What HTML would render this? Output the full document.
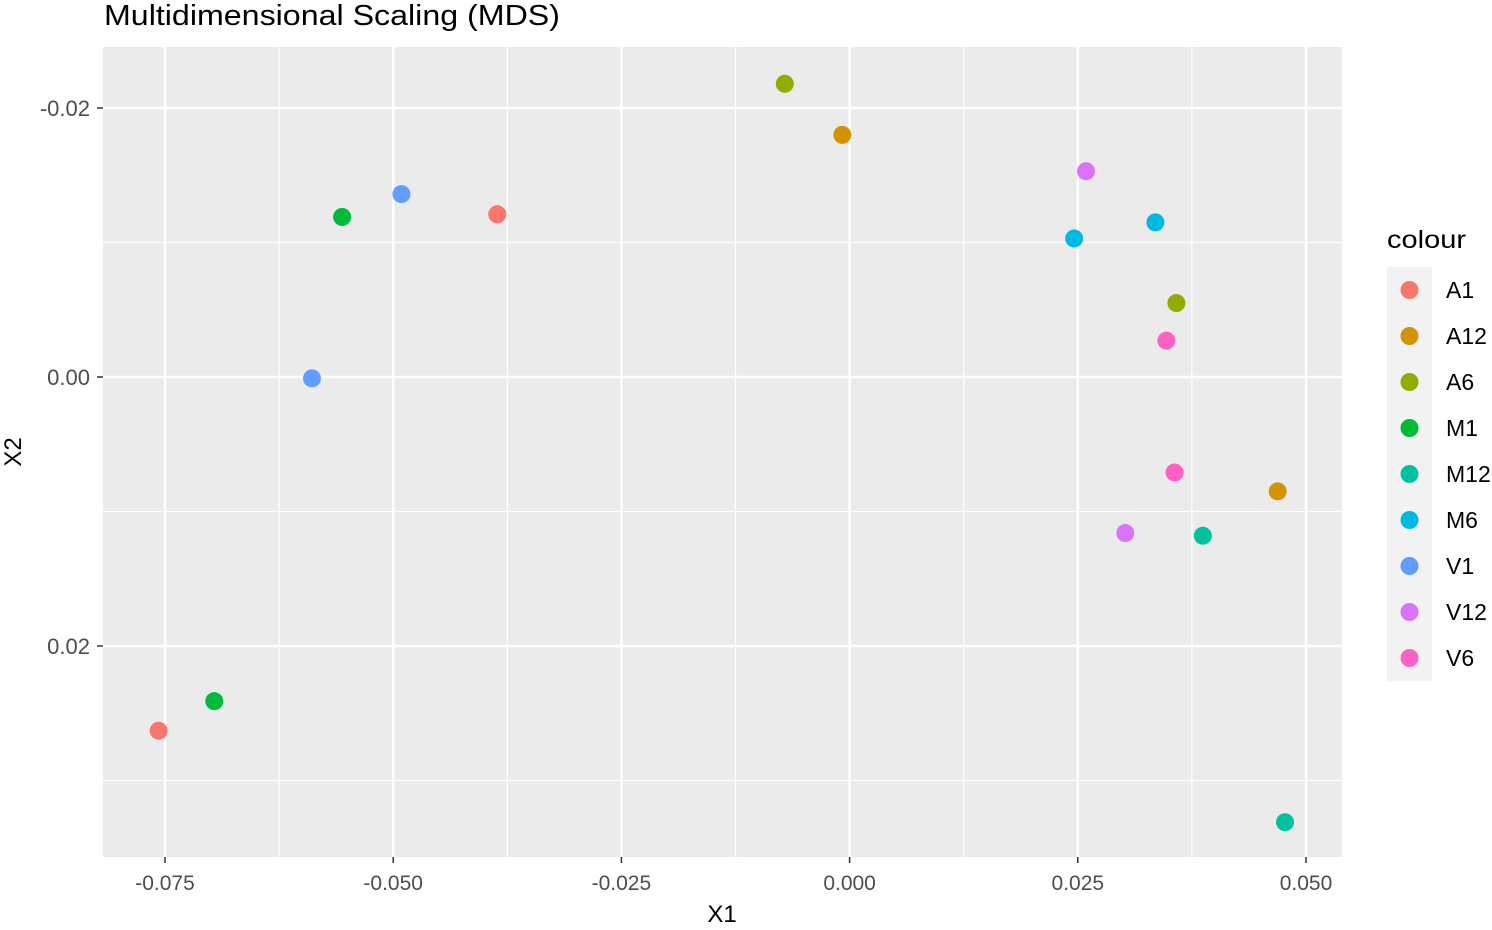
<!DOCTYPE html>
<html><head><meta charset="utf-8"><style>
body{margin:0;background:#fff;font-family:"Liberation Sans",sans-serif;}
svg text{font-family:"Liberation Sans",sans-serif;}
</style></head><body>
<svg id="chart" width="1492" height="925" xmlns="http://www.w3.org/2000/svg">
<text x="104" y="25" font-size="29" textLength="456" lengthAdjust="spacingAndGlyphs" fill="#000">Multidimensional Scaling (MDS)</text>
<rect x="103" y="47" width="1239" height="810" fill="#EBEBEB"/>
<g id="grid"></g><g id="axes"></g><g id="points"></g>
<text x="722" y="922" font-size="24" text-anchor="middle">X1</text>
<text transform="translate(21,452) rotate(-90)" font-size="24" text-anchor="middle">X2</text>
<text x="1387" y="248" font-size="25" textLength="79" lengthAdjust="spacingAndGlyphs">colour</text>
<rect x="1387" y="267" width="45" height="414" fill="#F2F2F2"/>
<g id="legend"></g>
</svg>
<script>
const groups=["A1","A12","A6","M1","M12","M6","V1","V12","V6"];
const colors=["#F8766D","#D39200","#93AA00","#00BA38","#00C19F","#00B9E3","#619CFF","#DB72FB","#FF61C3"];
const ptGroup=["A1","A1","A12","A12","A6","A6","M1","M1","M12","M12","M6","M6","V1","V1","V12","V12","V6","V6"];
const ptX1=[-0.0386,-0.0757,-0.0008,0.0469,-0.0071,0.0358,-0.0556,-0.0696,0.0387,0.0477,0.0246,0.0335,-0.0491,-0.0589,0.0259,0.0302,0.0347,0.0356];
const ptX2=[-0.0121,0.0263,-0.0180,0.0085,-0.0218,-0.0055,-0.0119,0.0241,0.0118,0.0331,-0.0103,-0.0115,-0.0136,0.0001,-0.0153,0.0116,-0.0027,0.0071];
const xTicks=[-0.075,-0.05,-0.025,0,0.025,0.05];
const xTickLabels=["-0.075","-0.050","-0.025","0.000","0.025","0.050"];
const yTicks=[-0.02,0,0.02];
const yTickLabels=["-0.02","0.00","0.02"];
const NS="http://www.w3.org/2000/svg";
const sx=v=>849.6+v*9128;
const sy=v=>377+v*13450;
function mk(tag,attrs,parent){const e=document.createElementNS(NS,tag);for(const k in attrs)e.setAttribute(k,attrs[k]);parent.appendChild(e);return e;}
const grid=document.getElementById('grid'),axes=document.getElementById('axes'),pts=document.getElementById('points'),leg=document.getElementById('legend');
for(let i=0;i<xTicks.length-1;i++){const m=(xTicks[i]+xTicks[i+1])/2;const l=mk('line',{x1:sx(m),x2:sx(m),y1:47,y2:857,stroke:'#fff','stroke-width':1.2},grid);

}
[-0.03,-0.01,0.01,0.03].forEach(m=>{const y=sy(m);if(y>47&&y<857){const l=mk('line',{x1:103,x2:1342,y1:y,y2:y,stroke:'#fff','stroke-width':1.2},grid);

}});
xTicks.forEach((v,i)=>{const x=sx(v);const l=mk('line',{x1:x,x2:x,y1:47,y2:857,stroke:'#fff','stroke-width':2.4},grid);


mk('line',{x1:x,x2:x,y1:857,y2:863,stroke:'#333','stroke-width':1.5},axes);
const t=mk('text',{x:x,y:890,'font-size':21,fill:'#4D4D4D','text-anchor':'middle'},axes);t.textContent=xTickLabels[i];

});
yTicks.forEach((v,i)=>{const y=sy(v);const l=mk('line',{x1:103,x2:1342,y1:y,y2:y,stroke:'#fff','stroke-width':2.4},grid);


mk('line',{x1:97,x2:103,y1:y,y2:y,stroke:'#333','stroke-width':1.5},axes);
const t=mk('text',{x:90,y:y+8,'font-size':22,fill:'#4D4D4D','text-anchor':'end'},axes);t.textContent=yTickLabels[i];

});
ptGroup.forEach((g,i)=>{const c=mk('circle',{cx:sx(ptX1[i]),cy:sy(ptX2[i]),r:9,fill:colors[groups.indexOf(g)]},pts);

});
groups.forEach((g,i)=>{const y=290+i*46;const c=mk('circle',{cx:1409.5,cy:y,r:9,fill:colors[i]},leg);


const t=mk('text',{x:1446,y:y+8,'font-size':23,fill:'#000'},leg);t.textContent=g;

});
</script>
</body></html>
